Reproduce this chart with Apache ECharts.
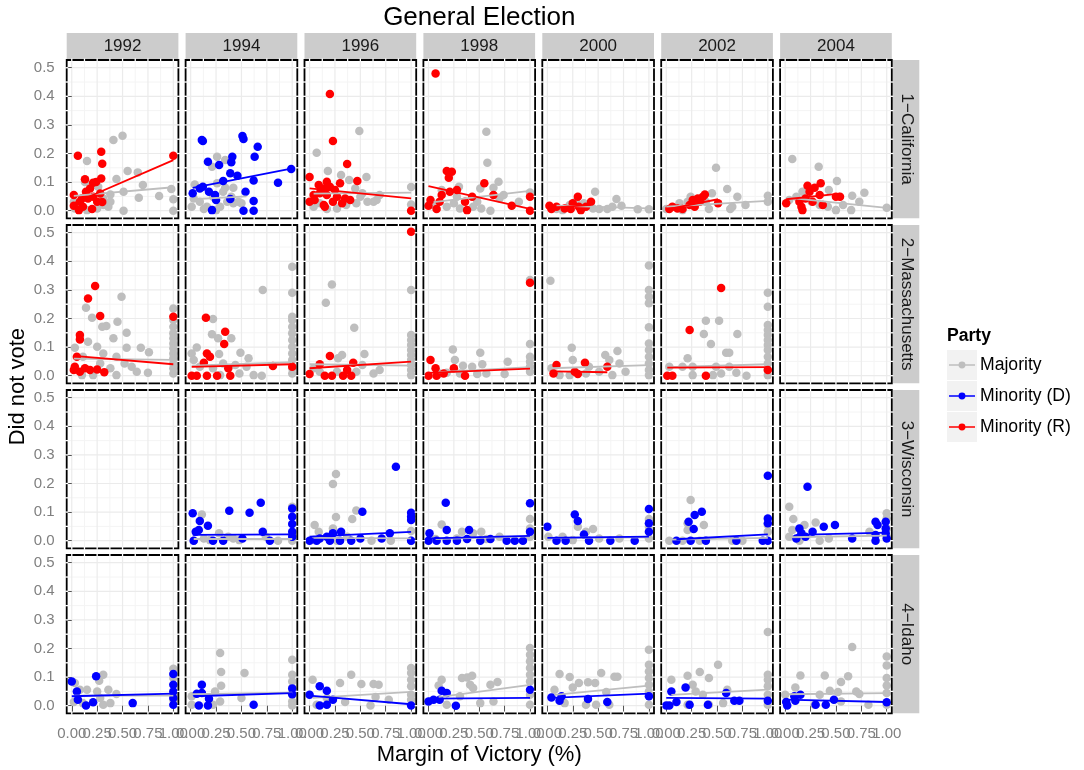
<!DOCTYPE html>
<html><head><meta charset="utf-8">
<script src="https://cdn.jsdelivr.net/npm/echarts@6/dist/echarts.min.js"></script>
<style>html,body{margin:0;padding:0;background:#fff}#c{width:1084px;height:770px}</style>
</head><body><div id="c"></div>
<script>
const years = ['1992','1994','1996','1998','2000','2002','2004'];
const states = ['1\u2212California','2\u2212Massachusetts','3\u2212Wisconsin','4\u2212Idaho'];
const xTicks = [0,0.25,0.5,0.75,1];
const yTicks = [0,0.1,0.2,0.3,0.4,0.5];
const xMinor = [0.125,0.375,0.625,0.875];
const yMinor = [0.05,0.15,0.25,0.35,0.45];
const groups = ['Majority','Minority (D)','Minority (R)'];

// ---- California ----
const ca92Maj=[[0.41,0.247],[0.50,0.262],[0.15,0.174],[0.55,0.139],[0.65,0.134],[0.44,0.111],[0.70,0.09],[0.13,0.10],[0.51,0.066],[0.38,0.057],[0.31,0.043],[0.66,0.045],[0.86,0.051],[0.98,0.076],[1.0,0.04],[1.0,0.0],[0.51,0.0],[0.36,0.014],[0.25,0.008],[0.15,0.002],[0.03,0.008],[0.02,0.031],[0.31,0.02],[0.38,0.031],[0.08,0.02],[0.26,0.084]];
const ca92Min=[[0.06,0.192],[0.29,0.206],[0.30,0.164],[1.0,0.192],[0.13,0.11],[0.21,0.098],[0.24,0.10],[0.29,0.113],[0.14,0.066],[0.02,0.055],[0.02,0.017],[0.08,0.031],[0.16,0.043],[0.21,0.049],[0.25,0.031],[0.11,0.014],[0.20,0.006],[0.28,0.06],[0.07,0.002],[0.18,0.078],[0.30,0.03],[0.10,0.043]];
const ca94Maj=[[0.26,0.189],[0.34,0.177],[0.21,0.154],[0.04,0.092],[0.26,0.096],[0.34,0.08],[0.42,0.08],[0.03,0.043],[0.09,0.031],[0.01,0.014],[0.16,0.014],[0.29,0.014],[0.36,0.031],[0.42,0.026],[0.47,0.031],[0.32,0.066],[0.22,0.049],[0.40,0.049],[0.5,0.026],[0.25,0.002],[0.13,0.006]];
const ca94Min=[[0.11,0.247],[0.12,0.244],[0.51,0.261],[0.52,0.251],[0.66,0.224],[0.63,0.189],[0.41,0.189],[0.40,0.169],[0.17,0.171],[0.28,0.16],[0.39,0.131],[0.46,0.122],[0.32,0.104],[0.62,0.106],[0.86,0.098],[0.99,0.146],[0.12,0.084],[0.18,0.066],[0.02,0.061],[0.24,0.055],[0.25,0.037],[0.54,0.066],[0.62,0.034],[0.21,0.002],[0.52,0.0],[0.62,0.0],[0.39,0.041],[0.09,0.078]];
const ca96Maj=[[0.49,0.279],[0.07,0.203],[0.18,0.139],[0.31,0.125],[0.39,0.107],[0.56,0.118],[0.45,0.078],[0.52,0.061],[0.69,0.055],[1.0,0.083],[1.0,0.022],[0.63,0.031],[0.57,0.031],[0.04,0.014],[0.1,0.026],[0.17,0.006],[0.27,0.008],[0.36,0.02],[0.46,0.026],[0.5,0.049],[0.66,0.037]];
const ca96Min=[[0.20,0.408],[0.23,0.244],[0.37,0.163],[0.0,0.118],[0.47,0.104],[0.17,0.101],[0.09,0.09],[0.14,0.078],[0.20,0.084],[0.25,0.072],[0.30,0.096],[0.04,0.055],[0.10,0.061],[0.17,0.055],[0.27,0.049],[0.35,0.043],[0.40,0.037],[0.0,0.031],[0.14,0.02],[0.23,0.031],[0.15,0.014],[1.0,0.0],[0.32,0.026],[0.05,0.037]];
const ca98Maj=[[0.57,0.276],[0.58,0.168],[0.69,0.101],[0.64,0.08],[0.51,0.078],[1.0,0.064],[0.89,0.031],[0.7,0.043],[0.30,0.084],[0.13,0.072],[0.28,0.049],[0.48,0.031],[0.61,0.0],[0.52,0.008],[0.44,0.014],[0.18,0.014],[0.25,0.026],[0.31,0.008],[0.05,0.02],[0.74,0.055]];
const ca98Min=[[0.07,0.48],[0.18,0.139],[0.23,0.136],[0.20,0.115],[0.55,0.096],[0.02,0.037],[0.0,0.017],[0.08,0.006],[0.13,0.055],[0.21,0.066],[0.28,0.072],[0.36,0.031],[0.43,0.049],[0.38,0.002],[0.64,0.055],[0.82,0.017],[1.0,0.0],[1.0,0.049],[0.11,0.031]];
const ca00Maj=[[0.47,0.066],[0.68,0.041],[0.73,0.017],[0.59,0.006],[0.51,0.006],[0.89,0.005],[1.0,0.005],[0.28,0.031],[0.09,0.006],[0.22,0.02],[0.36,0.026],[0.64,0.014],[0.45,0.008],[0.15,0.002]];
const ca00Min=[[0.02,0.017],[0.04,0.006],[0.17,0.008],[0.23,0.006],[0.3,0.049],[0.31,0.014],[0.33,0.002],[0.43,0.031],[0.25,0.026],[0.38,0.014],[0.09,0.014]];
const ca02Maj=[[0.49,0.15],[0.60,0.076],[0.45,0.061],[0.70,0.049],[1.0,0.052],[1.0,0.031],[0.78,0.02],[0.65,0.014],[0.63,0.006],[0.42,0.006],[0.24,0.049],[0.21,0.031],[0.13,0.026],[0.0,0.006],[0.39,0.031],[0.16,0.002]];
const ca02Min=[[0.03,0.006],[0.06,0.014],[0.11,0.008],[0.23,0.02],[0.26,0.037],[0.31,0.043],[0.36,0.049],[0.38,0.057],[0.33,0.031],[0.28,0.014],[0.51,0.026],[0.16,0.006]];
const ca04Maj=[[0.07,0.181],[0.33,0.154],[0.51,0.104],[0.78,0.063],[0.66,0.052],[0.73,0.031],[1.0,0.01],[0.65,0.002],[0.5,0.002],[0.43,0.072],[0.17,0.066],[0.11,0.049],[0.04,0.037],[0.26,0.031],[0.34,0.02],[0.42,0.014],[0.57,0.02]];
const ca04Min=[[0.01,0.026],[0.16,0.014],[0.22,0.087],[0.29,0.08],[0.35,0.096],[0.24,0.066],[0.2,0.043],[0.27,0.031],[0.34,0.055],[0.50,0.049],[0.54,0.049],[0.14,0.031],[0.17,0.002],[0.37,0.02]];
const caFitMaj=[[0.02,0.052,1.0,0.082],[0.01,0.04,0.55,0.05],[0.04,0.06,1.0,0.063],[0.05,0.03,1.0,0.069],[0.09,0.018,1.0,0.008],[0.0,0.014,1.0,0.034],[0.04,0.045,1.0,0.01]];
const caFitMin=[[0.02,0.026,1.0,0.177],[0.02,0.08,0.99,0.147],[0.0,0.078,1.0,0.043],[0.0,0.086,1.0,0.006],[0.02,0.01,0.43,0.02],[0.03,0.006,0.51,0.04],[0.01,0.04,0.54,0.06]];
const caParty=['R','D','R','R','R','R','R'];

// ---- Massachusetts ----
const ma92Maj=[[0.49,0.276],[0.14,0.238],[0.20,0.203],[0.30,0.171],[0.34,0.174],[0.45,0.189],[0.54,0.15],[0.41,0.131],[0.16,0.119],[0.03,0.098],[0.25,0.101],[0.54,0.098],[0.68,0.098],[0.76,0.082],[0.31,0.078],[0.44,0.066],[0.11,0.066],[0.52,0.043],[0.59,0.031],[0.64,0.014],[0.75,0.01],[0.38,0.026],[0.44,0.002],[0.21,0.002],[0.1,0.002],[0.28,0.043],[1.0,0.235],[1.0,0.195],[1.0,0.171],[1.0,0.148],[1.0,0.131],[1.0,0.113],[1.0,0.096],[1.0,0.078],[1.0,0.061],[1.0,0.043],[1.0,0.026],[1.0,0.008]];
const ma92Min=[[0.23,0.314],[0.16,0.27],[0.28,0.209],[0.08,0.142],[0.08,0.127],[0.05,0.066],[0.02,0.02],[0.03,0.031],[0.08,0.014],[0.13,0.026],[0.18,0.02],[0.25,0.022],[0.32,0.012],[1.0,0.206]];
const ma94Maj=[[1.0,0.381],[1.0,0.29],[0.71,0.3],[0.22,0.198],[1.0,0.206],[1.0,0.195],[1.0,0.171],[1.0,0.148],[1.0,0.125],[1.0,0.101],[1.0,0.078],[1.0,0.055],[1.0,0.026],[1.0,0.008],[0.21,0.145],[0.27,0.131],[0.4,0.131],[0.06,0.099],[0.28,0.076],[0.49,0.08],[0.01,0.078],[0.57,0.061],[0.03,0.055],[0.09,0.031],[0.22,0.026],[0.32,0.043],[0.44,0.037],[0.55,0.031],[0.62,0.002],[0.7,0.0],[0.48,0.008],[0.29,0.002]];
const ma94Min=[[0.15,0.203],[0.34,0.154],[0.33,0.111],[0.16,0.078],[0.19,0.066],[0.13,0.045],[0.01,0.0],[0.06,0.0],[0.16,0.0],[0.26,0.0],[0.37,0.026],[0.39,0.0],[0.81,0.034],[1.0,0.031]];
const ma96Maj=[[0.22,0.319],[0.16,0.255],[0.44,0.168],[1.0,0.3],[1.0,0.142],[1.0,0.125],[1.0,0.107],[1.0,0.09],[1.0,0.072],[1.0,0.055],[1.0,0.037],[1.0,0.02],[1.0,0.002],[0.28,0.061],[0.32,0.072],[0.54,0.076],[0.52,0.037],[0.69,0.02],[0.04,0.026],[0.1,0.014],[0.27,0.014],[0.46,0.014],[0.63,0.008]];
const ma96Min=[[1.0,0.503],[0.20,0.069],[0.10,0.04],[0.43,0.045],[0.0,0.006],[0.15,0.0],[0.22,0.0],[0.33,0.0],[0.41,0.0],[0.37,0.02]];
const ma98Maj=[[1.0,0.335],[1.0,0.111],[0.24,0.092],[0.51,0.08],[0.26,0.055],[0.53,0.04],[0.78,0.049],[1.0,0.066],[1.0,0.049],[1.0,0.031],[1.0,0.014],[0.34,0.035],[0.43,0.031],[0.18,0.01],[0.31,0.008],[0.48,0.006],[0.57,0.008],[0.75,0.006],[0.11,0.008]];
const ma98Min=[[1.0,0.325],[0.02,0.055],[0.07,0.026],[0.25,0.026],[0.0,0.0],[0.08,0.0],[0.15,0.008],[0.36,0.0]];
const ma00Maj=[[0.03,0.332],[1.0,0.385],[1.0,0.3],[1.0,0.276],[1.0,0.253],[1.0,0.169],[1.0,0.113],[1.0,0.09],[1.0,0.066],[1.0,0.043],[1.0,0.02],[1.0,0.002],[0.24,0.098],[0.69,0.086],[0.57,0.072],[0.61,0.055],[0.25,0.055],[0.41,0.031],[0.71,0.043],[0.77,0.014],[0.51,0.014],[0.64,0.002],[0.12,0.002],[0.22,0.002],[0.38,0.008],[0.04,0.026]];
const ma00Min=[[0.09,0.037],[0.06,0.008],[0.27,0.014],[0.3,0.006],[0.37,0.045],[0.59,0.031]];
const ma02Maj=[[0.39,0.192],[0.52,0.192],[0.37,0.146],[0.70,0.146],[0.44,0.111],[0.21,0.061],[0.59,0.08],[0.62,0.08],[1.0,0.29],[1.0,0.241],[1.0,0.177],[1.0,0.16],[1.0,0.142],[1.0,0.125],[1.0,0.107],[1.0,0.09],[1.0,0.066],[1.0,0.043],[1.0,0.02],[1.0,0.002],[0.03,0.031],[0.16,0.031],[0.26,0.031],[0.49,0.031],[0.62,0.031],[0.69,0.01],[0.79,0.0],[0.26,0.002],[0.46,0.002],[0.54,0.008]];
const ma02Min=[[0.54,0.307],[0.23,0.16],[0.01,0.0],[0.06,0.0],[0.39,0.0],[1.0,0.02]];
const maFitMaj=[[0.02,0.06,1.0,0.055],[0.01,0.035,1.0,0.047],[0.0,0.04,1.0,0.035],[0.1,0.012,1.0,0.03],[0.03,0.026,1.0,0.037],[0.01,0.03,1.0,0.04],null];
const maFitMin=[[0.02,0.069,1.0,0.04],[0.01,0.031,1.0,0.04],[0.0,0.026,1.0,0.049],[0.0,0.01,1.0,0.025],[0.06,0.015,0.59,0.012],[0.01,0.028,1.0,0.03],null];
const maParty=['R','R','R','R','R','R','R'];

// ---- Wisconsin ----
const wi94Maj=[[0.11,0.092],[0.28,0.026],[0.37,0.014],[0.42,0.008],[0.13,0.008],[0.19,0.002],[0.48,0.002],[0.74,0.014],[0.86,0.0],[1.0,0.119],[1.0,0.0],[1.0,0.02],[0.03,0.0]];
const wi94Min=[[0.02,0.096],[0.09,0.069],[0.17,0.052],[0.05,0.031],[0.08,0.037],[0.38,0.105],[0.58,0.098],[0.69,0.133],[0.71,0.031],[0.78,0.0],[0.51,0.008],[0.32,0.0],[0.22,0.0],[1.0,0.113],[1.0,0.084],[1.0,0.058],[1.0,0.031],[1.0,0.014],[0.03,0.0]];
const wi96Maj=[[0.26,0.233],[0.23,0.198],[0.26,0.083],[0.46,0.106],[0.42,0.076],[0.05,0.055],[0.09,0.031],[0.23,0.043],[0.04,0.002],[0.27,0.0],[0.61,0.0],[0.80,0.0],[1.0,0.034],[1.0,0.0],[0.37,0.014]];
const wi96Min=[[0.85,0.259],[0.52,0.101],[0.31,0.031],[0.23,0.026],[0.17,0.014],[0.10,0.008],[0.0,0.0],[0.07,0.0],[0.20,0.0],[0.30,0.0],[0.41,0.0],[0.50,0.008],[0.71,0.008],[0.79,0.026],[1.0,0.098],[1.0,0.084],[1.0,0.072],[1.0,0.0]];
const wi98Maj=[[0.13,0.057],[0.33,0.031],[0.44,0.026],[0.52,0.031],[0.7,0.014],[1.0,0.076],[1.0,0.043],[1.0,0.014],[0.07,0.006],[0.28,0.008],[0.57,0.006]];
const wi98Min=[[0.17,0.133],[0.01,0.026],[0.18,0.037],[0.40,0.037],[0.0,0.0],[0.08,0.0],[0.18,0.0],[0.28,0.0],[0.38,0.006],[0.51,0.0],[0.61,0.006],[0.77,0.0],[0.85,0.0],[0.93,0.0],[1.0,0.131],[1.0,0.031]];
const wi00Maj=[[0.01,0.014],[0.15,0.014],[0.3,0.049],[0.45,0.041],[0.38,0.031],[0.51,0.008],[0.25,0.002],[1.0,0.076],[1.0,0.049],[1.0,0.008],[0.71,0.008]];
const wi00Min=[[0.0,0.049],[0.27,0.092],[0.30,0.069],[0.36,0.022],[0.09,0.0],[0.18,0.0],[0.41,0.0],[0.62,0.0],[0.86,0.0],[1.0,0.111],[1.0,0.061],[1.0,0.031]];
const wi02Maj=[[0.24,0.142],[0.21,0.061],[0.37,0.055],[0.21,0.037],[0.03,0.0],[0.16,0.0],[0.33,0.0],[0.65,0.0],[0.75,0.0],[1.0,0.055],[1.0,0.031]];
const wi02Min=[[1.0,0.227],[0.35,0.101],[0.28,0.09],[0.22,0.066],[0.27,0.041],[0.10,0.0],[0.24,0.0],[0.39,0.0],[0.69,0.0],[0.95,0.0],[1.0,0.078],[1.0,0.061],[1.0,0.0]];
const wi04Maj=[[0.04,0.119],[0.08,0.076],[0.07,0.037],[0.30,0.064],[0.19,0.055],[0.04,0.014],[0.14,0.0],[0.34,0.0],[0.43,0.008],[0.83,0.031],[1.0,0.096],[1.0,0.078],[1.0,0.043],[1.0,0.014]];
const wi04Min=[[0.22,0.189],[0.49,0.055],[0.38,0.049],[0.14,0.043],[0.16,0.026],[0.27,0.031],[0.20,0.014],[0.66,0.008],[0.89,0.066],[0.91,0.055],[0.89,0.02],[0.89,0.0],[0.99,0.066],[0.99,0.043],[0.99,0.026],[1.0,0.008],[0.11,0.008]];
const wiFitMaj=[null,[0.03,0.006,1.0,0.006],[0.04,0.01,1.0,0.008],[0.07,0.006,1.0,0.015],[0.01,0.01,1.0,0.012],[0.03,0.004,1.0,0.01],[0.04,0.012,1.0,0.018]];
const wiFitMin=[null,[0.02,0.02,1.0,0.022],[0.0,0.014,1.0,0.031],[0.0,0.008,1.0,0.017],[0.0,0.01,1.0,0.014],[0.1,0.005,1.0,0.022],[0.11,0.02,1.0,0.028]];
const wiParty=['D','D','D','D','D','D','D'];

// ---- Idaho ----
const id92Maj=[[0.03,0.079],[0.31,0.108],[0.27,0.087],[0.08,0.056],[0.15,0.056],[0.36,0.056],[0.44,0.041],[0.25,0.05],[0.02,0.013],[0.11,0.009],[0.31,0.003],[0.38,0.009],[0.28,0.027],[1.0,0.129],[1.0,0.097],[1.0,0.038],[1.0,0.021]];
const id92Min=[[0.0,0.085],[0.05,0.05],[0.06,0.021],[0.14,0.001],[0.24,0.103],[0.21,0.012],[0.6,0.009],[1.0,0.111],[1.0,0.073],[1.0,0.05],[1.0,0.027],[1.0,0.003]];
const id94Maj=[[0.29,0.184],[0.30,0.118],[0.53,0.114],[0.30,0.07],[0.24,0.05],[0.50,0.027],[0.01,0.033],[0.01,0.003],[0.29,0.015],[0.22,0.003],[1.0,0.161],[1.0,0.108],[1.0,0.085],[1.0,0.062],[1.0,0.038],[1.0,0.015],[1.0,0.001]];
const id94Min=[[0.11,0.073],[0.06,0.042],[0.11,0.044],[0.18,0.024],[0.08,0.001],[0.17,0.001],[0.62,0.003],[1.0,0.06],[1.0,0.04]];
const id96Maj=[[0.03,0.091],[0.30,0.079],[0.41,0.108],[0.51,0.076],[0.63,0.076],[0.68,0.073],[0.65,0.03],[0.78,0.021],[0.35,0.013],[0.6,0.001],[0.07,0.003],[0.17,0.027],[1.0,0.132],[1.0,0.114],[1.0,0.091],[1.0,0.068],[1.0,0.038],[1.0,0.021]];
const id96Min=[[0.0,0.038],[0.10,0.068],[0.17,0.052],[0.10,0.001],[0.17,0.003],[0.23,0.021],[1.0,0.001]];
const id98Maj=[[0.13,0.091],[0.10,0.071],[0.33,0.097],[0.38,0.099],[0.43,0.105],[0.41,0.073],[0.44,0.062],[0.61,0.073],[0.68,0.083],[0.64,0.015],[0.51,0.009],[0.18,0.003],[0.31,0.033],[1.0,0.202],[1.0,0.178],[1.0,0.155],[1.0,0.132],[1.0,0.108],[1.0,0.085],[1.0,0.038],[1.0,0.003]];
const id98Min=[[0.0,0.015],[0.05,0.021],[0.13,0.052],[0.18,0.044],[0.11,0.021],[0.27,0.0],[1.0,0.056]];
const id00Maj=[[0.12,0.111],[0.22,0.1],[0.31,0.079],[0.40,0.082],[0.47,0.079],[0.53,0.114],[0.66,0.101],[0.69,0.101],[0.58,0.048],[0.25,0.064],[0.07,0.056],[0.38,0.003],[0.48,0.003],[0.61,0.003],[0.17,0.009],[1.0,0.196],[1.0,0.143],[1.0,0.12],[1.0,0.097],[1.0,0.073],[1.0,0.05],[1.0,0.003]];
const id00Min=[[0.04,0.029],[0.12,0.017],[0.14,0.033],[0.40,0.023],[0.59,0.013],[1.0,0.033]];
const id02Maj=[[1.0,0.258],[0.51,0.143],[0.33,0.118],[0.21,0.105],[0.05,0.091],[0.42,0.097],[0.26,0.073],[0.29,0.05],[0.36,0.038],[0.6,0.056],[1.0,0.108],[1.0,0.091],[1.0,0.068],[1.0,0.038],[1.0,0.003],[0.21,0.003],[0.42,0.003],[0.56,0.009]];
const id02Min=[[0.05,0.05],[0.0,0.001],[0.03,0.001],[0.1,0.013],[0.19,0.064],[0.23,0.003],[0.41,0.003],[0.59,0.044],[0.67,0.017],[0.72,0.017],[1.0,0.017]];
const id04Maj=[[0.66,0.205],[0.15,0.106],[0.39,0.106],[0.62,0.103],[0.55,0.083],[0.10,0.064],[0.34,0.038],[0.44,0.052],[0.52,0.048],[0.70,0.05],[0.73,0.041],[0.82,0.003],[0.55,0.015],[0.29,0.003],[0.0,0.038],[1.0,0.172],[1.0,0.141],[1.0,0.097],[1.0,0.071],[1.0,0.044],[1.0,0.003]];
const id04Min=[[0.01,0.013],[0.02,0.001],[0.10,0.017],[0.15,0.038],[0.09,0.033],[0.30,0.003],[0.40,0.003],[0.48,0.021],[1.0,0.012]];
const idFitMaj=[[0.02,0.035,1.0,0.035],[0.01,0.04,1.0,0.046],[0.03,0.027,1.0,0.048],[0.1,0.03,1.0,0.073],[0.07,0.038,1.0,0.07],[0.05,0.038,1.0,0.056],[0.0,0.04,1.0,0.044]];
const idFitMin=[[0.0,0.033,1.0,0.042],[0.03,0.033,1.0,0.044],[0.0,0.035,1.0,0.005],[0.0,0.025,1.0,0.027],[0.04,0.027,1.0,0.042],[0.0,0.027,1.0,0.025],[0.0,0.021,1.0,0.013]];
const idParty=['D','D','D','D','D','D','D'];

const stateMaj=[[ca92Maj,ca94Maj,ca96Maj,ca98Maj,ca00Maj,ca02Maj,ca04Maj],[ma92Maj,ma94Maj,ma96Maj,ma98Maj,ma00Maj,ma02Maj,[]],[[],wi94Maj,wi96Maj,wi98Maj,wi00Maj,wi02Maj,wi04Maj],[id92Maj,id94Maj,id96Maj,id98Maj,id00Maj,id02Maj,id04Maj]];
const stateMin=[[ca92Min,ca94Min,ca96Min,ca98Min,ca00Min,ca02Min,ca04Min],[ma92Min,ma94Min,ma96Min,ma98Min,ma00Min,ma02Min,[]],[[],wi94Min,wi96Min,wi98Min,wi00Min,wi02Min,wi04Min],[id92Min,id94Min,id96Min,id98Min,id00Min,id02Min,id04Min]];
const stateFitMaj=[caFitMaj,maFitMaj,wiFitMaj,idFitMaj];
const stateFitMin=[caFitMin,maFitMin,wiFitMin,idFitMin];
const stateParty=[caParty,maParty,wiParty,idParty];

// ---- layout / style ----
const FONT='"Liberation Sans", Arial, Helvetica, sans-serif';
const L={left:66.7,colStep:118.9,width:111.7,top:60,rowStep:165,height:158.3};
const COLORS={'Majority':'#bebebe','Minority (D)':'#0000ff','Minority (R)':'#ff0000'};
const TICKCOL='#7f7f7f';
const XMIN=-0.05, XMAX=1.05, YMIN=-0.0266, YMAX=0.527;
// x labels split over two overlaid axes so that overlapping labels are all kept
const xLabA=xTicks.filter((v,k)=>k%2===0), xLabB=xTicks.filter((v,k)=>k%2===1);

function renderBg(params, api){
  const cs=params.coordSys; const ch=[];
  ch.push({type:'rect',shape:{x:cs.x,y:cs.y,width:cs.width,height:cs.height},style:{fill:'#ffffff'}});
  xMinor.forEach(v=>{const p=api.coord([v,0])[0];ch.push({type:'line',shape:{x1:p,y1:cs.y,x2:p,y2:cs.y+cs.height},style:{stroke:'#f4f4f4',lineWidth:1}});});
  yMinor.forEach(v=>{const p=api.coord([0,v])[1];ch.push({type:'line',shape:{x1:cs.x,y1:p,x2:cs.x+cs.width,y2:p},style:{stroke:'#f4f4f4',lineWidth:1}});});
  xTicks.forEach(v=>{const p=api.coord([v,0])[0];ch.push({type:'line',shape:{x1:p,y1:cs.y,x2:p,y2:cs.y+cs.height},style:{stroke:'#ebebeb',lineWidth:1.2}});});
  yTicks.forEach(v=>{const p=api.coord([0,v])[1];ch.push({type:'line',shape:{x1:cs.x,y1:p,x2:cs.x+cs.width,y2:p},style:{stroke:'#ebebeb',lineWidth:1.2}});});
  return {type:'group',children:ch};
}
function renderBorder(params, api){
  const cs=params.coordSys; const ch=[];
  ch.push({type:'rect',shape:{x:cs.x,y:cs.y,width:cs.width,height:cs.height},style:{fill:null,stroke:'#000',lineWidth:1.8}});
  const gx=xTicks.concat(xMinor), gy=yTicks.concat(yMinor);
  gx.forEach(v=>{const p=api.coord([v,0])[0];
    ch.push({type:'line',shape:{x1:p,y1:cs.y-1.5,x2:p,y2:cs.y+1.5},style:{stroke:'#fff',lineWidth:1.3}});
    ch.push({type:'line',shape:{x1:p,y1:cs.y+cs.height-1.5,x2:p,y2:cs.y+cs.height+1.5},style:{stroke:'#fff',lineWidth:1.3}});});
  gy.forEach(v=>{const p=api.coord([0,v])[1];
    ch.push({type:'line',shape:{x1:cs.x-1.5,y1:p,x2:cs.x+1.5,y2:p},style:{stroke:'#fff',lineWidth:1.3}});
    ch.push({type:'line',shape:{x1:cs.x+cs.width-1.5,y1:p,x2:cs.x+cs.width+1.5,y2:p},style:{stroke:'#fff',lineWidth:1.3}});});
  return {type:'group',children:ch};
}
function xLabelCfg(values){
  return {show:true,customValues:values,formatter:v=>Number(v).toFixed(2),color:TICKCOL,fontSize:15,margin:13,fontFamily:FONT,hideOverlap:false,showMinLabel:true,showMaxLabel:true};
}

const grid=[],xAxis=[],yAxis=[],series=[],graphic=[];
const extraX=[];
for(let r=0;r<4;r++){
  for(let c=0;c<7;c++){
    const i=r*7+c;
    const left=L.left+c*L.colStep, top=L.top+r*L.rowStep;
    grid.push({left:left,top:top,width:L.width,height:L.height,outerBoundsMode:'none',containLabel:false});
    const xa={gridIndex:i,type:'value',min:XMIN,max:XMAX,position:'bottom',
      axisLine:{show:false},splitLine:{show:false},
      axisTick:{show:r===3,length:6,customValues:xTicks,lineStyle:{color:'#555',width:1}},
      axisLabel:r===3?xLabelCfg(xLabA):{show:false}};
    xAxis.push(xa);
    if(r===3){
      extraX.push({gridIndex:i,type:'value',min:XMIN,max:XMAX,position:'bottom',offset:0,
        axisLine:{show:false},splitLine:{show:false},axisTick:{show:false},
        axisLabel:xLabelCfg(xLabB)});
    }
    yAxis.push({gridIndex:i,type:'value',min:YMIN,max:YMAX,
      axisLine:{show:false},splitLine:{show:false},
      axisTick:{show:c===0,length:6,customValues:yTicks,lineStyle:{color:'#555',width:1}},
      axisLabel:{show:c===0,customValues:yTicks,formatter:v=>Number(v).toFixed(1),color:TICKCOL,fontSize:15,margin:12,fontFamily:FONT,showMinLabel:true,showMaxLabel:true}});
    series.push({type:'custom',xAxisIndex:i,yAxisIndex:i,data:[[0.5,0.25]],renderItem:renderBg,z:0,silent:true});
    const minName=stateParty[r][c]==='D'?'Minority (D)':'Minority (R)';
    series.push({type:'scatter',name:'Majority',xAxisIndex:i,yAxisIndex:i,data:stateMaj[r][c],symbolSize:8.5,itemStyle:{color:COLORS['Majority'],opacity:1},z:2,silent:true});
    series.push({type:'scatter',name:minName,xAxisIndex:i,yAxisIndex:i,data:stateMin[r][c],symbolSize:8.5,itemStyle:{color:COLORS[minName],opacity:1},z:2,silent:true});
    const fm=stateFitMaj[r][c], fn=stateFitMin[r][c];
    if(fm) series.push({type:'line',name:'Majority',xAxisIndex:i,yAxisIndex:i,data:[[fm[0],fm[1]],[fm[2],fm[3]]],symbol:'none',lineStyle:{color:COLORS['Majority'],width:1.8},itemStyle:{color:COLORS['Majority']},z:3,silent:true});
    if(fn) series.push({type:'line',name:minName,xAxisIndex:i,yAxisIndex:i,data:[[fn[0],fn[1]],[fn[2],fn[3]]],symbol:'none',lineStyle:{color:COLORS[minName],width:1.8},itemStyle:{color:COLORS[minName]},z:3,silent:true});
    series.push({type:'custom',xAxisIndex:i,yAxisIndex:i,data:[[0.5,0.25]],renderItem:renderBorder,z:6,silent:true});
  }
}
extraX.forEach(a=>xAxis.push(a));
// column strips
years.forEach((y,c)=>{
  const left=L.left+c*L.colStep;
  graphic.push({type:'rect',shape:{x:left,y:L.top-27,width:L.width,height:26.5},style:{fill:'#cccccc'},silent:true});
  graphic.push({type:'text',x:left+L.width/2,y:L.top-13.5,style:{text:y,fontSize:17,fontFamily:FONT,fill:'#1a1a1a',align:'center',verticalAlign:'middle'},silent:true});
});
// row strips
const stripX=L.left+6*L.colStep+L.width+1;
states.forEach((s,r)=>{
  const top=L.top+r*L.rowStep;
  graphic.push({type:'rect',shape:{x:stripX,y:top,width:26.5,height:L.height},style:{fill:'#cccccc'},silent:true});
  graphic.push({type:'text',x:stripX+13.5,y:top+L.height/2,rotation:-Math.PI/2,style:{text:s,fontSize:17,fontFamily:FONT,fill:'#1a1a1a',align:'center',verticalAlign:'middle'},silent:true});
});
const plotCx=L.left+(6*L.colStep+L.width)/2;
const plotCy=L.top+(3*L.rowStep+L.height)/2;
graphic.push({type:'text',x:plotCx,y:18,style:{text:'General Election',fontSize:26,fontFamily:FONT,fill:'#000',align:'center',verticalAlign:'middle'},silent:true});
graphic.push({type:'text',x:plotCx,y:755,style:{text:'Margin of Victory (%)',fontSize:22,fontFamily:FONT,fill:'#000',align:'center',verticalAlign:'middle'},silent:true});
graphic.push({type:'text',x:18,y:plotCy,rotation:Math.PI/2,style:{text:'Did not vote',fontSize:22,fontFamily:FONT,fill:'#000',align:'center',verticalAlign:'middle'},silent:true});
// legend title and key backgrounds
graphic.push({type:'text',x:947,y:336,style:{text:'Party',fontSize:17.6,fontWeight:'bold',fontFamily:FONT,fill:'#000',align:'left',verticalAlign:'middle'},silent:true});
groups.forEach((g,k)=>{
  graphic.push({type:'rect',shape:{x:947,y:350+k*31,width:30,height:30},style:{fill:'#f2f2f2'},z:-1,silent:true});
});

const ICON='path://M0,9L30,9L30,11L0,11Z M19,10A4,4,0,1,1,11,10A4,4,0,1,1,19,10Z';
const option={
  animation:false,
  backgroundColor:'#ffffff',
  textStyle:{fontFamily:FONT},
  grid:grid,xAxis:xAxis,yAxis:yAxis,series:series,
  legend:{orient:'vertical',left:949,top:351,itemWidth:26,itemHeight:28,itemGap:3,selectedMode:false,
    data:groups.map(g=>({name:g,icon:ICON,itemStyle:{color:COLORS[g]}})),
    textStyle:{fontSize:17.6,color:'#000',fontFamily:FONT,lineHeight:28,height:28},padding:0,z:5},
  graphic:graphic
};
const chart=echarts.init(document.getElementById('c'),null,{renderer:'canvas'});
chart.setOption(option);
</script></body></html>
